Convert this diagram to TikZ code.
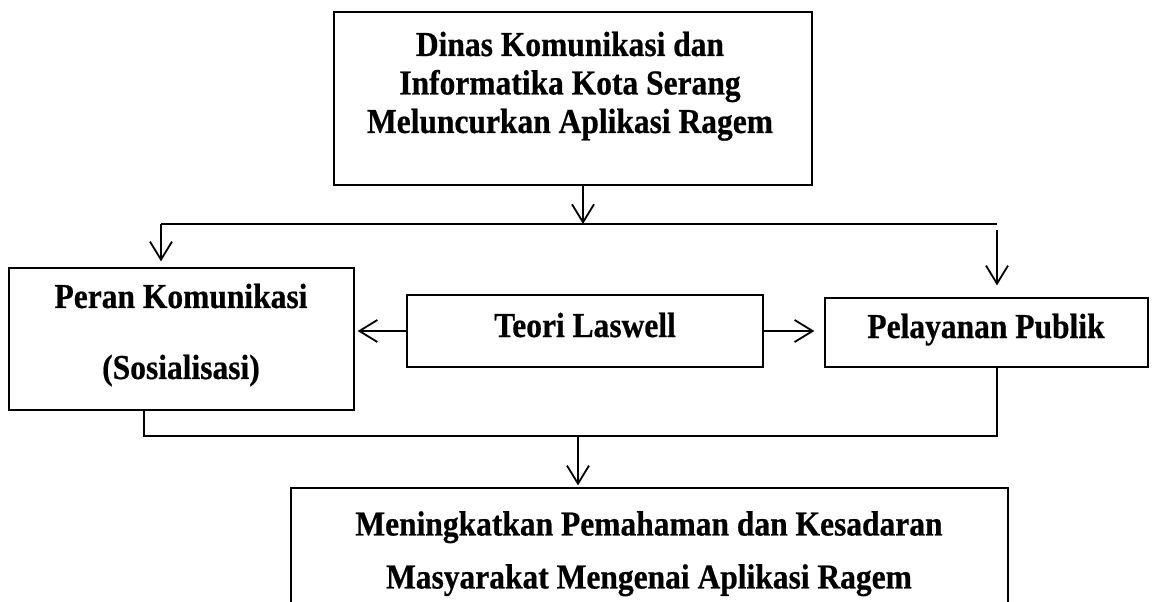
\documentclass[tikz,border=0pt]{standalone}
\usepackage{fontspec}
\setmainfont{Liberation Serif}
\newfontfamily\boxfont{Liberation Serif}[FakeStretch=0.9, BoldFeatures={FakeBold=0.6}]
\usetikzlibrary{arrows.meta}

\begin{document}
\begin{tikzpicture}[x=1pt, y=-1pt,
  box/.style={draw, line width=1.3pt, inner sep=0pt},
  lbl/.style={inner sep=0pt, align=center, font=\boxfont\bfseries\fontsize{35}{38.5}\selectfont},
  link/.style={line width=1.8pt},
  arr/.style={link, -{Straight Barb[length=18pt, width=22pt]}}]
  \clip (0,0) rectangle (1152,602);

  % Boxes
  \node[box, minimum width=478pt, minimum height=173pt] (dinas) at (573,98.5) {};
  \node[box, minimum width=345pt, minimum height=142pt] (peran) at (181.5,339) {};
  \node[box, minimum width=356pt, minimum height=72pt] (teori) at (585,331) {};
  \node[box, minimum width=323pt, minimum height=69pt] (pelayanan) at (986.5,332.5) {};
  \node[box, minimum width=717pt, minimum height=160pt] (hasil) at (649.5,568) {};

  % Texts
  \node[lbl, anchor=north] (dinas-txt) at (570,31.5)
    {Dinas Komunikasi dan\\Informatika Kota Serang\\Meluncurkan Aplikasi Ragem};
  \node[lbl, anchor=north] (peran-txt) at (181,283.5)
    {Peran Komunikasi\\[32.5pt](Sosialisasi)};
  \node[lbl, anchor=base] (teori-txt) at (585,337) {Teori Laswell};
  \node[lbl, anchor=base] (pelayanan-txt) at (986,338) {Pelayanan Publik};
  \node[lbl, anchor=north] (hasil-txt) at (649,511)
    {Meningkatkan Pemahaman dan Kesadaran\\[14.5pt]Masyarakat Mengenai Aplikasi Ragem};

  % Junctions
  \coordinate (split) at (583,224);
  \coordinate (splitL) at (161,224);
  \coordinate (splitR) at (997,224);
  \coordinate (joinL) at (144,436);
  \coordinate (joinR) at (997,436);
  \coordinate (merge) at (578,436);

  % Links
  \draw[arr] (dinas.south -| split) -- (split);
  \draw[link] (splitL) -- (splitR);
  \draw[arr, shorten >=6pt] (splitL) -- (splitL |- peran.north);
  \draw[arr, shorten <=6pt, shorten >=12pt] (splitR) -- (splitR |- pelayanan.north);
  \draw[arr, shorten >=3pt] (teori.west) -- (peran.east |- teori.west);
  \draw[arr, shorten >=10pt] (teori.east) -- (pelayanan.west |- teori.east);
  \draw[link] (joinL |- peran.south) -- (joinL) -- (joinR) -- (joinR |- pelayanan.south);
  \draw[arr, shorten >=2pt] (merge) -- (merge |- hasil.north);
\end{tikzpicture}
\end{document}
